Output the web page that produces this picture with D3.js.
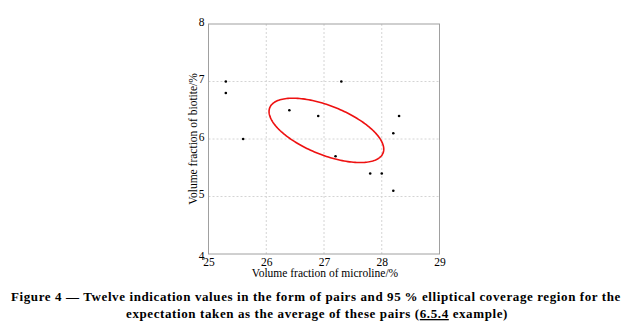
<!DOCTYPE html>
<html>
<head>
<meta charset="utf-8">
<script src="https://cdn.jsdelivr.net/npm/d3@7/dist/d3.min.js"></script>
<style>
  html, body { margin: 0; padding: 0; background: #fff; }
  svg { display: block; }
</style>
</head>
<body>
<svg id="chart" width="634" height="332"></svg>
<script>
// Twelve indication pairs (microline %, biotite %)
const microline = [25.3, 25.3, 25.6, 26.4, 26.9, 27.3, 27.2, 28.2, 28.3, 27.8, 28.0, 28.2];
const biotite   = [7.0, 6.8, 6.0, 6.5, 6.4, 7.0, 5.7, 6.1, 6.4, 5.4, 5.4, 5.1];

const xTicks = [25, 26, 27, 28, 29];
const yTicks = [4, 5, 6, 7, 8];

// 95 % quantile of F(2, n-2) with n = 12
const fQuantile = 4.1028;

const svg = d3.select("#chart");
const m = { left: 208.5, top: 24, right: 439.5, bottom: 254 };

const x = d3.scaleLinear().domain([25, 29]).range([m.left, m.right]);
const y = d3.scaleLinear().domain([4, 8]).range([m.bottom, m.top]);

const serif = "'Liberation Serif', 'Times New Roman', serif";

// dotted grid
svg.append("g")
  .selectAll("line")
  .data(xTicks.slice(1, -1))
  .join("line")
  .attr("x1", d => x(d)).attr("x2", d => x(d))
  .attr("y1", m.top).attr("y2", m.bottom)
  .attr("stroke", "#d4d4d4").attr("stroke-width", 1)
  .attr("stroke-dasharray", "2,2");

svg.append("g")
  .selectAll("line")
  .data(yTicks.slice(1, -1))
  .join("line")
  .attr("x1", m.left).attr("x2", m.right)
  .attr("y1", d => y(d)).attr("y2", d => y(d))
  .attr("stroke", "#d4d4d4").attr("stroke-width", 1)
  .attr("stroke-dasharray", "2,2");

// axes: labels only, the frame is drawn as a box
const xAxis = svg.append("g")
  .attr("transform", `translate(0,${m.bottom})`)
  .call(d3.axisBottom(x).tickValues(xTicks).tickSize(0).tickPadding(4).tickFormat(d3.format("d")));
xAxis.select(".domain").remove();
xAxis.selectAll("text").attr("font-family", serif).attr("font-size", 11.5).attr("fill", "#000").attr("dy", "0.71em");

const yAxis = svg.append("g")
  .attr("transform", `translate(${m.left},0)`)
  .call(d3.axisLeft(y).tickValues(yTicks).tickSize(0).tickPadding(4).tickFormat(d3.format("d")));
yAxis.select(".domain").remove();
yAxis.selectAll("text").attr("font-family", serif).attr("font-size", 11.5).attr("fill", "#000")
  .attr("dy", d => d === 4 ? "0.5em" : "0.1em");

// frame
svg.append("rect")
  .attr("x", m.left).attr("y", m.top)
  .attr("width", m.right - m.left).attr("height", m.bottom - m.top)
  .attr("fill", "none").attr("stroke", "#a0a0a0").attr("stroke-width", 1);

// coverage ellipse for the expectation (mean of the pairs)
const n = microline.length;
const mx = d3.mean(microline), my = d3.mean(biotite);
let sxx = 0, syy = 0, sxy = 0;
for (let i = 0; i < n; i++) {
  const dx = microline[i] - mx, dy = biotite[i] - my;
  sxx += dx * dx; syy += dy * dy; sxy += dx * dy;
}
// covariance of the mean
const cxx = sxx / (n - 1) / n, cyy = syy / (n - 1) / n, cxy = sxy / (n - 1) / n;
const k2 = 2 * (n - 1) / (n - 2) * fQuantile;
// Cholesky factor of the covariance
const l11 = Math.sqrt(cxx), l21 = cxy / l11, l22 = Math.sqrt(cyy - l21 * l21);
const k = Math.sqrt(k2);
const ellipsePts = d3.range(0, 360, 2).map(a => {
  const t = a * Math.PI / 180;
  const u = Math.cos(t) * k, v = Math.sin(t) * k;
  return [mx + l11 * u, my + l21 * u + l22 * v];
});
svg.append("path")
  .datum(ellipsePts)
  .attr("d", d3.line().x(d => x(d[0])).y(d => y(d[1])).curve(d3.curveLinearClosed))
  .attr("fill", "none").attr("stroke", "#ee1111").attr("stroke-width", 1.6);

// indication pairs
svg.append("g")
  .selectAll("circle")
  .data(d3.range(n))
  .join("circle")
  .attr("cx", i => x(microline[i]))
  .attr("cy", i => y(biotite[i]))
  .attr("r", 1.3)
  .attr("fill", "#000");

// axis titles
svg.append("text")
  .attr("x", (m.left + m.right) / 2 + 1).attr("y", 277)
  .attr("text-anchor", "middle")
  .attr("font-family", serif).attr("font-size", 11.5)
  .text("Volume fraction of microline/%");

svg.append("text")
  .attr("transform", `translate(197,${(m.top + m.bottom) / 2}) rotate(-90)`)
  .attr("text-anchor", "middle")
  .attr("font-family", serif).attr("font-size", 11.5)
  .text("Volume fraction of biotite/%");

// caption, letter-spaced so the first line spans the page width
const cap = svg.append("g")
  .attr("font-family", serif).attr("font-weight", "bold").attr("font-size", 13)
  .attr("text-anchor", "middle");
const l1 = cap.append("text").attr("x", 316).attr("y", 301)
  .text("Figure 4 \u2014 Twelve indication values in the form of pairs and 95\u202f% elliptical coverage region for the");
const l2 = cap.append("text").attr("x", 317).attr("y", 318);
l2.append("tspan").text("expectation taken as the average of these pairs (");
l2.append("tspan").attr("text-decoration", "underline").text("6.5.4");
l2.append("tspan").text(" example)");

const targetWidth = 610;
const chars = l1.text().length;
const ls = (targetWidth - l1.node().getComputedTextLength()) / chars;
cap.attr("letter-spacing", ls);
</script>
</body>
</html>
